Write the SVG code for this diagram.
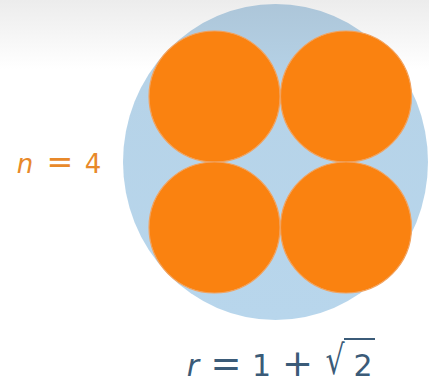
<svg xmlns="http://www.w3.org/2000/svg" width="429" height="384" viewBox="0 0 429 384">
<defs>
<linearGradient id="bg" x1="0" y1="0" x2="0" y2="1">
<stop offset="0" stop-color="#ececec"/>
<stop offset="0.18" stop-color="#ffffff"/>
<stop offset="1" stop-color="#ffffff"/>
</linearGradient>
<linearGradient id="blue" x1="0" y1="0" x2="0" y2="1">
<stop offset="0" stop-color="#adc6d9"/>
<stop offset="0.25" stop-color="#b6d3e8"/>
<stop offset="1" stop-color="#b8d6ec"/>
</linearGradient>
</defs>
<style>
.disc{fill:#fa8210;stroke:#f2a25e;stroke-width:1.2}
.lbl{font-family:"DejaVu Sans","Liberation Sans",sans-serif;text-anchor:middle}
</style>
<rect width="429" height="384" fill="url(#bg)"/>
<g id="outer">
<ellipse cx="275.5" cy="162" rx="152.5" ry="158" fill="url(#blue)"/>
</g>
<g id="discs">
<circle class="disc" cx="214.5" cy="96.5" r="65.5"/>
<circle class="disc" cx="346" cy="96.5" r="65.5"/>
<circle class="disc" cx="214.5" cy="227.5" r="65.5"/>
<circle class="disc" cx="346" cy="227.5" r="65.5"/>
</g>
<g id="label-n">
<text class="lbl" y="173" font-size="26" fill="#e8892a"><tspan x="25" font-style="italic">n</tspan><tspan x="60" font-size="32">=</tspan><tspan x="93">4</tspan></text>
</g>
<g id="label-r">
<text class="lbl" y="376" font-size="30" fill="#3b5b78"><tspan x="193" font-style="italic">r</tspan><tspan x="226" font-size="37">=</tspan><tspan x="261.5">1</tspan><tspan x="297.5" font-size="37">+</tspan><tspan x="363">2</tspan></text>
<text class="lbl" transform="translate(335,374) scale(1,1.35)" font-size="30" fill="#3b5b78">√</text>
<line x1="344" y1="339" x2="375" y2="339" stroke="#3b5b78" stroke-width="2"/>
</g>
</svg>
